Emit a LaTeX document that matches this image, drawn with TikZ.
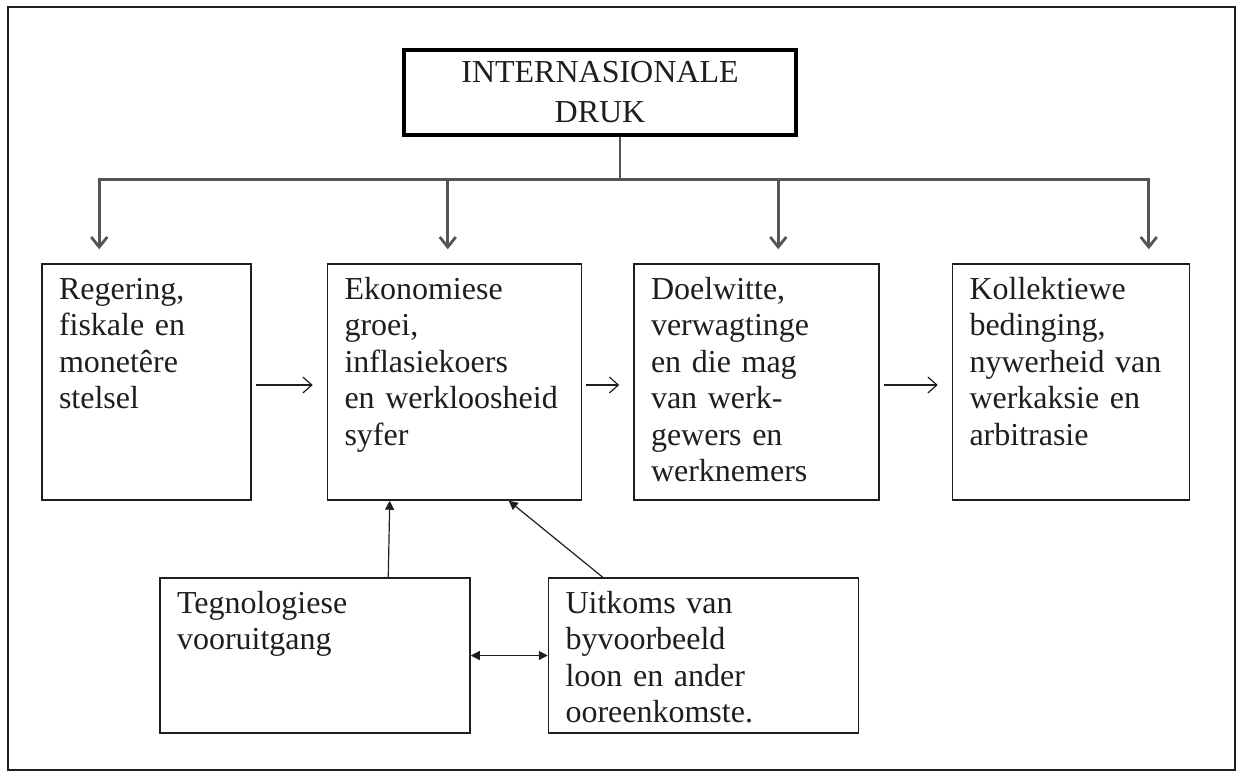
\documentclass[tikz,border=0pt]{standalone}
\usepackage{fontspec}
\setmainfont{Liberation Serif}
\usepackage{tikz}
\usetikzlibrary{arrows.meta,positioning,calc}
\definecolor{ink}{HTML}{1E1E1E}
\definecolor{feedgray}{HTML}{555555}

\begin{document}
\begin{tikzpicture}[
  box/.style={draw=ink,line width=0.75pt,align=left,text=ink,
    font=\fontsize{16}{18.25}\selectfont,inner xsep=8.5pt,inner ysep=7pt,
    text height=10.5pt,text depth=93.5pt},
  low/.style={box,text depth=53pt},
  hub/.style={draw=black,line width=2.2pt,align=center,text=ink,
    font=\fontsize{16}{20}\selectfont,minimum width=196pt,minimum height=42.5pt,inner sep=0pt},
  ar/.style={-{Straight Barb[length=4.5pt,width=8pt]},line width=0.6pt,draw=ink,
    shorten <=2pt,shorten >=7pt},
  down/.style={-{Straight Barb[length=5pt,width=8pt]},line width=1.4pt,draw=feedgray},
  tri/.style={-{Triangle[length=4.5pt,width=4.5pt]},line width=0.6pt,draw=ink},
  both/.style={{Triangle[length=4.5pt,width=4.5pt]}-{Triangle[length=4.5pt,width=4.5pt]},
    line width=0.6pt,draw=ink}]

\useasboundingbox (0,0) rectangle (619.5pt,-386pt);
\draw[draw=ink,line width=0.7pt] (4pt,-3.5pt) rectangle (617.5pt,-385pt);

\node[hub] (druk) at (300pt,-46.25pt) {INTERNASIONALE\\DRUK};

% top row
\node[box,text width=87.5pt] (reg) at (73.25pt,-191pt)
  {Regering,\\fiskale en\\monetêre\\stelsel};
\node[box,text width=110pt,right=37.5pt of reg] (ekon)
  {Ekonomiese\\groei,\\inflasiekoers\\en werkloosheid\\syfer};
\node[box,text width=105.5pt,right=25.5pt of ekon] (doel)
  {Doelwitte,\\verwagtinge\\en die mag\\van werk-\\gewers en\\werknemers};
\node[box,text width=101.5pt,right=36pt of doel] (koll)
  {Kollektiewe\\bedinging,\\nywerheid van\\werkaksie en\\arbitrasie};

% bottom row
\node[low,text width=138pt] (tegn) at (157.5pt,-327.75pt)
  {Tegnologiese\\vooruitgang};
\node[low,text width=138pt,right=38.5pt of tegn] (uitk)
  {Uitkoms van\\byvoorbeeld\\loon en ander\\ooreenkomste.};

% branching from the top
\coordinate (fork) at ([xshift=10pt,yshift=-21pt]druk.south);
\coordinate (in1) at ([xshift=29pt,yshift=7pt]reg.north west);
\coordinate (in2) at ([xshift=60.5pt,yshift=7pt]ekon.north west);
\coordinate (in3) at ([xshift=72.5pt,yshift=7pt]doel.north west);
\coordinate (in4) at ([xshift=98.5pt,yshift=7pt]koll.north west);

\draw[line width=1.4pt,draw=feedgray] (druk.south -| fork) -- (fork);
\draw[down] (fork) -| (in1);
\draw[down] (fork) -| (in2);
\draw[down] (fork) -| (in3);
\draw[down] (fork) -| (in4);

\draw[ar] ([yshift=-1.5pt]reg.east) -- ([yshift=-1.5pt]ekon.west);
\draw[ar] ([yshift=-1.5pt]ekon.east) -- ([yshift=-1.5pt]doel.west);
\draw[ar] ([yshift=-1.5pt]doel.east) -- ([yshift=-1.5pt]koll.west);

\draw[tri] ([xshift=114.5pt]tegn.north west) -- ([xshift=31.5pt]ekon.south west);
\draw[tri] ([xshift=27.5pt]uitk.north west) -- ([xshift=91pt]ekon.south west);
\draw[both] (tegn) -- (uitk);
\end{tikzpicture}
\end{document}
